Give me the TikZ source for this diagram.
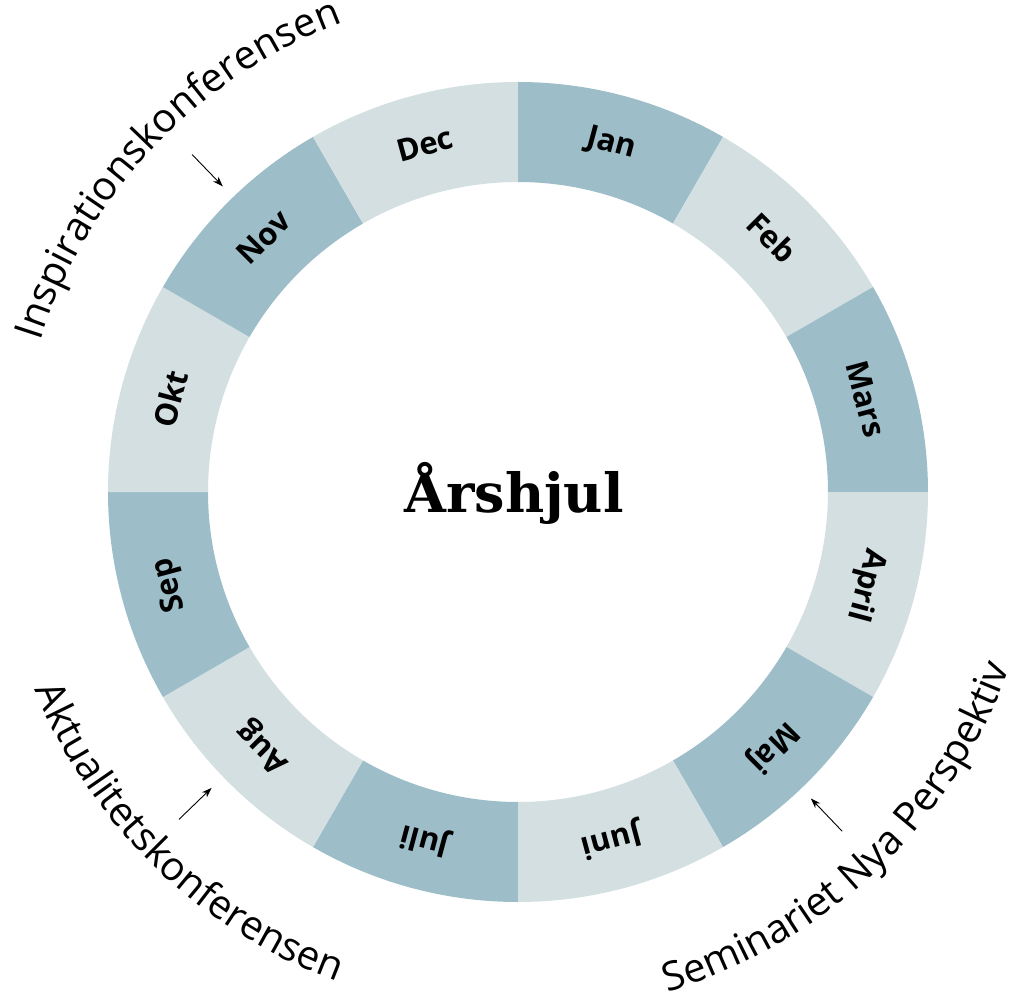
\documentclass[tikz,border=0pt]{standalone}
\usepackage{fontspec}
\setmainfont{Open Sans}
\newfontfamily\titlefont{DejaVu Serif}
\usetikzlibrary{decorations.text,arrows.meta}
\definecolor{ringdark}{HTML}{9DBEC9}
\definecolor{ringlight}{HTML}{D3DFE0}
\tikzset{
  month/.style={font=\bfseries\fontsize{31}{36}\selectfont, inner sep=0pt},
  eventarrow/.style={-{Stealth[length=10pt,width=7pt]}, line width=0.9pt},
}
\begin{document}
\begin{tikzpicture}[x=1pt,y=1pt, line cap=round]
	\def\R{410} \def\r{310} \def\rm{360} % radier
	\def\rin{501} \def\rout{522}
	\useasboundingbox (-518,-507) rectangle (492,492);
	
	\foreach \m [count=\i from 0] in {Jan,Feb,Mars,April,Maj,Juni,Juli,Aug,Sep,Okt,Nov,Dec}{
		\pgfmathsetmacro\a{90-30*\i}
		\pgfmathsetmacro\b{60-30*\i}
		\pgfmathsetmacro\c{75-30*\i}
		\ifodd\i \def\col{ringlight}\else \def\col{ringdark}\fi
		\fill[\col] (\a:\R) arc[start angle=\a, end angle=\b, radius=\R] -- (\b:\r) arc[start angle=\b, end angle=\a, radius=\r] -- cycle;
		\node[month, rotate=\c-90] (m\i) at (\c:\rm) {\m};
	}
	
	\node[font=\titlefont\bfseries\fontsize{54}{60}\selectfont, anchor=base] (title) at (-4,-20) {Årshjul};
	
	% evenemang
	\path[decorate, decoration={text along path, text align=center,
		text={|\fontsize{40}{48}\selectfont|Inspirationskonferensen}}]
		(171.5:\rin) arc[start angle=171.5, end angle=101.5, radius=\rin];
	\path[decorate, decoration={text along path, text align=center,
		text={|\fontsize{40}{48}\selectfont|Aktualitetskonferensen}}]
		(191:\rout) arc[start angle=191, end angle=261, radius=\rout];
	\path[decorate, decoration={text along path, text align=center,
		text={|\fontsize{40}{48}\selectfont|Seminariet Nya Perspektiv}}]
		(-81.5:\rout) arc[start angle=-81.5, end angle=-11.5, radius=\rout];
	
	\coordinate (insp1) at (134:469); \coordinate (insp2) at (134:425);
	\coordinate (akt1) at (224:471); \coordinate (akt2) at (224:426);
	\coordinate (sem1) at (-46.3:469); \coordinate (sem2) at (-46.3:424);
	\draw[eventarrow] (insp1) -- (insp2);
	\draw[eventarrow] (akt1) -- (akt2);
	\draw[eventarrow] (sem1) -- (sem2);
\end{tikzpicture}
\end{document}
